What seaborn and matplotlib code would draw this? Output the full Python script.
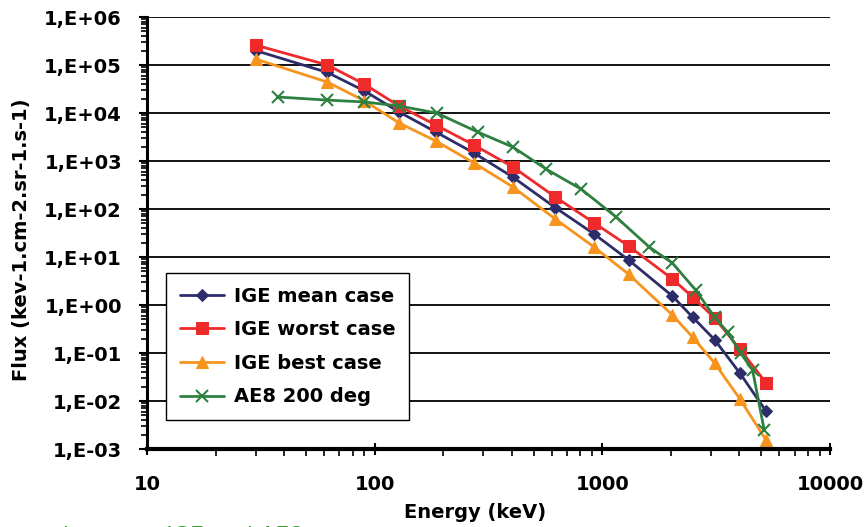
import matplotlib
matplotlib.use("Agg")
import matplotlib.pyplot as plt
import seaborn as sns
import numpy as np
from matplotlib.ticker import LogLocator, FixedLocator, NullFormatter

# ---- data ----
energy_ige = [30, 62, 90, 128, 186, 273, 405, 621, 922, 1303, 2030, 2490, 3110, 4020, 5230]
ige_mean = [2.0e5, 7.0e4, 2.9e4, 1.05e4, 4.0e3, 1.47e3, 4.6e2, 1.07e2, 30, 8.7, 1.54, 0.56, 0.19, 0.038, 0.0062]
ige_worst = [2.6e5, 1.0e5, 4.0e4, 1.4e4, 5.6e3, 2.15e3, 7.5e2, 1.78e2, 51, 17, 3.5, 1.47, 0.54, 0.12, 0.024]
ige_best = [1.33e5, 4.4e4, 1.8e4, 6.2e3, 2.6e3, 9.1e2, 2.87e2, 62, 16, 4.4, 0.62, 0.215, 0.062, 0.011, 0.00155]

energy_ae8 = [37.8, 61.5, 90, 128, 187, 284, 405, 566, 807, 1150, 1610, 2030, 2570, 3110, 3550, 4050, 4570, 5140]
ae8 = [2.15e4, 1.86e4, 1.7e4, 1.4e4, 1.0e4, 4.0e3, 1.95e3, 6.8e2, 2.6e2, 68, 16, 7.5, 2.05, 0.56, 0.27, 0.1, 0.044, 0.0025]

series_labels = ["IGE mean case", "IGE worst case", "IGE best case", "AE8 200 deg"]
y_tick_values = [1e-3, 1e-2, 1e-1, 1e0, 1e1, 1e2, 1e3, 1e4, 1e5, 1e6]
y_tick_labels = ["1,E-03", "1,E-02", "1,E-01", "1,E+00", "1,E+01", "1,E+02", "1,E+03", "1,E+04", "1,E+05", "1,E+06"]
x_tick_values = [10, 100, 1000, 10000]
x_tick_labels = ["10", "100", "1000", "10000"]

sns.set_style("white")
plt.rcParams['font.family'] = ['DejaVu Sans']
plt.rcParams.update({"text.color": "black", "axes.labelcolor": "black",
                     "xtick.color": "black", "ytick.color": "black"})

fig = plt.figure(figsize=(8.64, 5.27), dpi=100)
ax = fig.add_axes([147/864, 1-449/527, (830-147)/864, (449-17)/527])

c_mean = "#2d2d6b"
c_worst = "#ee2a2a"
c_best = "#f7941d"
c_ae8 = "#2e8040"

lw = 2.0
sns.lineplot(x=energy_ige, y=ige_mean, ax=ax, color=c_mean, marker="D", markersize=6.5,
             markeredgecolor=c_mean, linewidth=lw, label=series_labels[0], sort=False)
sns.lineplot(x=energy_ige, y=ige_worst, ax=ax, color=c_worst, marker="s", markersize=8.5,
             markeredgecolor=c_worst, linewidth=lw, label=series_labels[1], sort=False)
sns.lineplot(x=energy_ige, y=ige_best, ax=ax, color=c_best, marker="^", markersize=8.5,
             markeredgecolor=c_best, linewidth=lw, label=series_labels[2], sort=False)
sns.lineplot(x=energy_ae8, y=ae8, ax=ax, color=c_ae8, marker="x", markersize=8,
             markeredgewidth=1.5, markeredgecolor=c_ae8, linewidth=lw, label=series_labels[3], sort=False)

ax.set_xscale("log")
ax.set_yscale("log")
ax.set_xlim(10, 10000)
ax.set_ylim(1e-3, 1e6)

ax.yaxis.set_major_locator(FixedLocator(y_tick_values))
ax.set_yticklabels(y_tick_labels, fontsize=14, fontweight="bold", color="black")
ax.yaxis.set_minor_locator(LogLocator(base=10, subs=np.arange(2, 10), numticks=20))
ax.yaxis.set_minor_formatter(NullFormatter())
ax.xaxis.set_major_locator(FixedLocator(x_tick_values))
ax.set_xticklabels(x_tick_labels, fontsize=14, fontweight="bold", color="black")
ax.xaxis.set_minor_locator(LogLocator(base=10, subs=np.arange(2, 10), numticks=20))
ax.xaxis.set_minor_formatter(NullFormatter())

ax.tick_params(axis="y", which="major", direction="out", length=6, width=1.5, color="black", pad=12, left=True)
ax.tick_params(axis="y", which="minor", direction="out", length=4, width=1.2, color="black", left=True)
ax.tick_params(axis="x", which="major", direction="inout", length=9, width=1.5, color="black", pad=14, bottom=True)
ax.tick_params(axis="x", which="minor", direction="out", length=5, width=1.2, color="black", bottom=True)

ax.grid(False)
ax.yaxis.grid(True, which="major", color="black", linewidth=1.3)
ax.set_axisbelow(True)

for s in ["top", "right"]:
    ax.spines[s].set_visible(False)
ax.spines["left"].set_color("black")
ax.spines["left"].set_linewidth(2.2)
ax.spines["bottom"].set_color("black")
ax.spines["bottom"].set_linewidth(3)

ax.set_xlabel("Energy (keV)", fontsize=14, fontweight="bold", color="black")
ax.set_ylabel("Flux (kev-1.cm-2.sr-1.s-1)", fontsize=14, fontweight="bold", color="black")
ax.xaxis.set_label_coords((475-147)/683, -(503-449)/432)
ax.yaxis.set_label_coords(-(147-31)/683, (449-240)/432)

leg = ax.legend(loc="lower left", bbox_to_anchor=(19/683, 29/432), borderaxespad=0,
                prop={"weight": "bold", "size": 14}, frameon=True, fancybox=False,
                edgecolor="black", framealpha=1, labelspacing=0.75, handlelength=2.3,
                handletextpad=0.5, borderpad=0.7)
leg.get_frame().set_linewidth(1.0)
for t in leg.get_texts():
    t.set_color("black")

fig.text(63/864, -15/527, "between IGE and AE8", color="#3a9a3a", fontsize=16, va="baseline", ha="left")

fig.savefig("out.png", dpi=100)
